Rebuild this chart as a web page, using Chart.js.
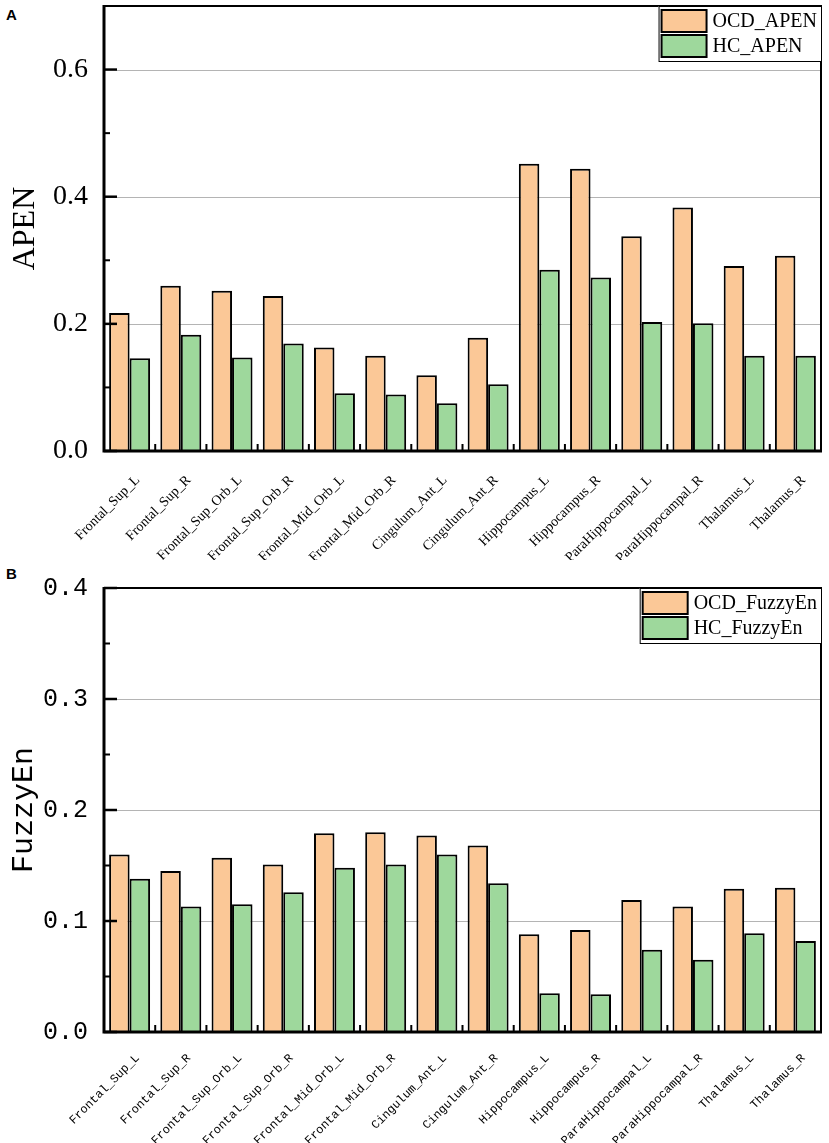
<!DOCTYPE html>
<html>
<head>
<meta charset="utf-8">
<script src="https://cdn.jsdelivr.net/npm/chart.js@4.4.1/dist/chart.umd.min.js"></script>
<style>
  html, body { margin: 0; padding: 0; background: #fff; }
  body { width: 829px; height: 1143px; position: relative; overflow: hidden; }
  .panel { position: absolute; left: 0; width: 829px; }
  .tag { position: absolute; left: 6px; font: bold 15px "Liberation Sans", Arial, sans-serif; color: #000; line-height: 15px; }
</style>
</head>
<body>
<div class="tag" style="top:7px;">A</div>
<div class="tag" style="top:566px;">B</div>
<div class="panel" style="top:0px;height:560px;"><canvas id="chartA"></canvas></div>
<div class="panel" style="top:560px;height:583px;"><canvas id="chartB"></canvas></div>
<script>
// ---- data ----
const categories = ["Frontal_Sup_L", "Frontal_Sup_R", "Frontal_Sup_Orb_L", "Frontal_Sup_Orb_R",
  "Frontal_Mid_Orb_L", "Frontal_Mid_Orb_R", "Cingulum_Ant_L", "Cingulum_Ant_R",
  "Hippocampus_L", "Hippocampus_R", "ParaHippocampal_L", "ParaHippocampal_R", "Thalamus_L", "Thalamus_R"];

const apenOCD = [0.217, 0.260, 0.252, 0.244, 0.163, 0.150, 0.119, 0.178, 0.452, 0.444, 0.338, 0.383, 0.291, 0.307];
const apenHC  = [0.146, 0.183, 0.147, 0.169, 0.091, 0.089, 0.075, 0.105, 0.285, 0.273, 0.203, 0.201, 0.150, 0.150];

const fuzzyOCD = [0.160, 0.145, 0.157, 0.151, 0.179, 0.180, 0.177, 0.168, 0.088, 0.092, 0.119, 0.113, 0.129, 0.130];
const fuzzyHC  = [0.138, 0.113, 0.115, 0.126, 0.148, 0.151, 0.160, 0.134, 0.035, 0.034, 0.074, 0.065, 0.089, 0.082];

const apenTicks = [0.0, 0.2, 0.4, 0.6];
const apenMinorTicks = [0.1, 0.3, 0.5];
const fuzzyTicks = [0.0, 0.1, 0.2, 0.3, 0.4];
const fuzzyMinorTicks = [0.05, 0.15, 0.25, 0.35];

const labelsA = ["OCD_APEN", "HC_APEN"];
const labelsB = ["OCD_FuzzyEn", "HC_FuzzyEn"];

const OCD_COLOR = "#FBC897";
const HC_COLOR = "#9ED89C";

// ---- plugin: grid, inward ticks, frame, legend ----
const framePlugin = {
  id: "frameLegend",
  beforeDatasetsDraw(chart, args, opts) {
    const { ctx, chartArea: a } = chart;
    const y = chart.scales.y;
    ctx.save();
    ctx.strokeStyle = "#b4b4b4";
    ctx.lineWidth = 1;
    opts.major.forEach(v => {
      if (v <= y.min || v >= y.max) return;
      const py = Math.round(y.getPixelForValue(v)) + 0.5;
      ctx.beginPath();
      ctx.moveTo(a.left + 13, py);
      ctx.lineTo(a.right, py);
      ctx.stroke();
    });
    ctx.restore();
  },
  afterDatasetsDraw(chart, args, opts) {
    const { ctx, chartArea: a } = chart;
    const y = chart.scales.y, x = chart.scales.x;
    ctx.save();
    ctx.strokeStyle = "#000";
    // y ticks (inward)
    ctx.lineWidth = 2.5;
    opts.major.forEach(v => {
      const py = y.getPixelForValue(v);
      ctx.beginPath(); ctx.moveTo(a.left, py); ctx.lineTo(a.left + 13, py); ctx.stroke();
    });
    ctx.lineWidth = 2;
    opts.minor.forEach(v => {
      const py = y.getPixelForValue(v);
      ctx.beginPath(); ctx.moveTo(a.left, py); ctx.lineTo(a.left + 6, py); ctx.stroke();
    });
    // x ticks at category boundaries (inward)
    const n = chart.data.labels.length;
    for (let i = 0; i < n - 1; i++) {
      const px = (x.getPixelForTick(i) + x.getPixelForTick(i + 1)) / 2;
      ctx.beginPath(); ctx.moveTo(px, a.bottom); ctx.lineTo(px, a.bottom - 7); ctx.stroke();
    }
    // frame
    ctx.lineWidth = 2;
    ctx.beginPath();
    ctx.moveTo(a.left, a.top); ctx.lineTo(a.right, a.top); ctx.lineTo(a.right, a.bottom);
    ctx.stroke();
    ctx.lineWidth = 3;
    ctx.beginPath();
    ctx.moveTo(a.left, a.top - 1); ctx.lineTo(a.left, a.bottom); ctx.lineTo(a.right + 1, a.bottom);
    ctx.stroke();

    // legend
    const ds = chart.data.datasets;
    ctx.font = opts.legendFont;
    const tw = Math.max(...ds.map(d => ctx.measureText(d.label).width));
    const sw = 45, sh = 22, padL = 3, gap = 6, padR = 4, rowH = 25;
    const boxW = padL + sw + gap + tw + padR;
    const boxH = 4 + rowH * ds.length + 1;
    const bx = a.right - boxW, by = a.top;
    ctx.fillStyle = "#fff";
    ctx.fillRect(bx, by, boxW, boxH);
    ctx.lineWidth = 1;
    ctx.strokeRect(bx + 0.5, by + 0.5, boxW, boxH);
    ds.forEach((d, i) => {
      const sy = by + 4 + i * rowH;
      ctx.fillStyle = d.backgroundColor;
      ctx.fillRect(bx + padL, sy, sw, sh);
      ctx.lineWidth = 2;
      ctx.strokeStyle = "#000";
      ctx.strokeRect(bx + padL, sy, sw, sh);
      ctx.fillStyle = "#000";
      ctx.textBaseline = "middle";
      ctx.textAlign = "left";
      ctx.fillText(d.label, bx + padL + sw + gap, sy + sh / 2 + 1);
    });
    ctx.restore();
  }
};

function makeChart(id, opt) {
  return new Chart(document.getElementById(id), {
    type: "bar",
    data: {
      labels: categories,
      datasets: [
        { label: opt.labels[0], data: opt.ocd, backgroundColor: OCD_COLOR, borderColor: "#000", borderWidth: 2 },
        { label: opt.labels[1], data: opt.hc, backgroundColor: HC_COLOR, borderColor: "#000", borderWidth: 2 }
      ]
    },
    plugins: [framePlugin],
    options: {
      responsive: true,
      maintainAspectRatio: false,
      animation: false,
      devicePixelRatio: 1,
      layout: { padding: { top: opt.padTop, right: 8, left: 0, bottom: 0 } },
      datasets: { bar: { categoryPercentage: 0.8, barPercentage: 1.0 } },
      plugins: {
        legend: { display: false },
        tooltip: { enabled: false },
        frameLegend: { major: opt.major, minor: opt.minor, legendFont: "20px 'Liberation Serif', 'Times New Roman', serif" }
      },
      scales: {
        x: {
          grid: { display: false, drawTicks: false },
          border: { display: false },
          afterFit(s) { s.height = opt.xHeight; s.paddingLeft = 0; s.paddingRight = 0; },
          ticks: {
            autoSkip: false,
            minRotation: 45, maxRotation: 45,
            padding: opt.xPad,
            labelOffset: 8,
            color: "#000",
            font: opt.xFont
          }
        },
        y: {
          min: 0, max: opt.max,
          grid: { display: false, drawTicks: false },
          border: { display: false },
          afterFit(s) { s.width = 104; s.paddingTop = 0; s.paddingBottom = 0; },
          afterBuildTicks(s) { s.ticks = opt.major.map(v => ({ value: v })); },
          ticks: {
            padding: 16,
            color: "#000",
            font: opt.yFont,
            callback: v => Number(v).toFixed(1)
          },
          title: {
            display: true,
            text: opt.title,
            color: "#000",
            font: opt.titleFont,
            padding: { top: 6, bottom: 0 }
          }
        }
      }
    }
  });
}

makeChart("chartA", {
  labels: labelsA, ocd: apenOCD, hc: apenHC, max: 0.7,
  major: apenTicks, minor: apenMinorTicks, padTop: 6, xHeight: 109, xPad: 21,
  title: "APEN",
  titleFont: { family: "'Liberation Serif', 'Times New Roman', serif", size: 32 },
  yFont: { family: "'Liberation Serif', 'Times New Roman', serif", size: 28 },
  xFont: { family: "'Liberation Serif', 'Times New Roman', serif", size: 14 }
});

makeChart("chartB", {
  labels: labelsB, ocd: fuzzyOCD, hc: fuzzyHC, max: 0.4,
  major: fuzzyTicks, minor: fuzzyMinorTicks, padTop: 28, xHeight: 111, xPad: 19,
  title: "FuzzyEn",
  titleFont: { family: "'Liberation Mono', 'Courier New', monospace", size: 30 },
  yFont: { family: "'Liberation Mono', 'Courier New', monospace", size: 25 },
  xFont: { family: "'Liberation Mono', 'Courier New', monospace", size: 12 }
});
</script>
</body>
</html>
